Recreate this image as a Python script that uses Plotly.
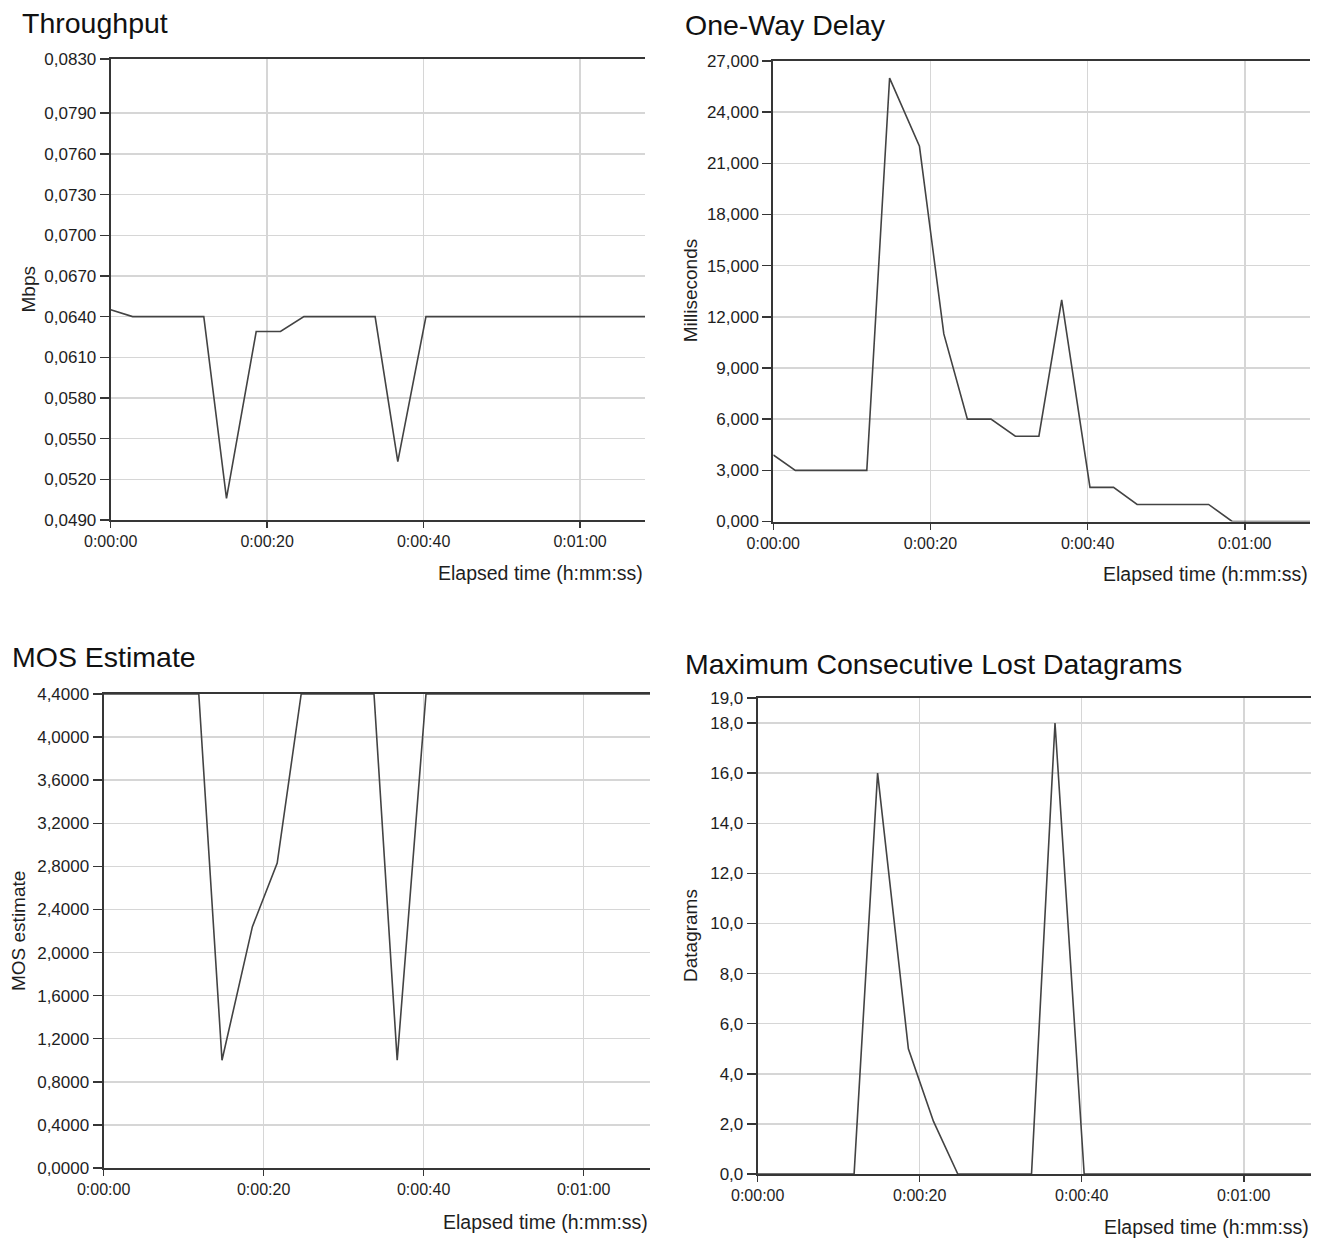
import plotly.graph_objects as go

# ---------------- data ----------------
# elapsed time of each sample, seconds
time_s = [0, 2.8, 5.8, 8.9, 11.9, 14.8, 18.6, 21.7, 24.7, 27.7, 30.8, 33.8,
          36.7, 40.3, 43.3, 46.3, 49.3, 52.4, 55.4, 58.4, 61.4, 64.4, 67.5, 70.5]

throughput_mbps = [0.0645, 0.0640, 0.0640, 0.0640, 0.0640, 0.0506, 0.0629, 0.0629,
                   0.0640, 0.0640, 0.0640, 0.0640, 0.0533, 0.0640, 0.0640, 0.0640,
                   0.0640, 0.0640, 0.0640, 0.0640, 0.0640, 0.0640, 0.0640, 0.0640]

delay_ms = [3.9, 3.0, 3.0, 3.0, 3.0, 26.0, 22.0, 11.0, 6.0, 6.0, 5.0, 5.0,
            13.0, 2.0, 2.0, 1.0, 1.0, 1.0, 1.0, 0.0, 0.0, 0.0, 0.0, 0.0]

mos_estimate = [4.4, 4.4, 4.4, 4.4, 4.4, 1.0, 2.24, 2.83, 4.4, 4.4, 4.4, 4.4,
                1.0, 4.4, 4.4, 4.4, 4.4, 4.4, 4.4, 4.4, 4.4, 4.4, 4.4, 4.4]

lost_datagrams = [0, 0, 0, 0, 0, 16, 5, 2.1, 0, 0, 0, 0,
                  18, 0, 0, 0, 0, 0, 0, 0, 0, 0, 0, 0]

x_tickvals = [0, 20, 40, 60]
x_ticktext = ["0:00:00", "0:00:20", "0:00:40", "0:01:00"]

thr_tickvals = [0.049, 0.052, 0.055, 0.058, 0.061, 0.064, 0.067, 0.070, 0.073, 0.076, 0.079, 0.083]
thr_ticktext = ["0,0490", "0,0520", "0,0550", "0,0580", "0,0610", "0,0640", "0,0670",
                "0,0700", "0,0730", "0,0760", "0,0790", "0,0830"]

delay_tickvals = [0, 3, 6, 9, 12, 15, 18, 21, 24, 27]
delay_ticktext = ["0,000", "3,000", "6,000", "9,000", "12,000", "15,000", "18,000",
                  "21,000", "24,000", "27,000"]

mos_tickvals = [0, 0.4, 0.8, 1.2, 1.6, 2.0, 2.4, 2.8, 3.2, 3.6, 4.0, 4.4]
mos_ticktext = ["0,0000", "0,4000", "0,8000", "1,2000", "1,6000", "2,0000", "2,4000",
                "2,8000", "3,2000", "3,6000", "4,0000", "4,4000"]

lost_tickvals = [0, 2, 4, 6, 8, 10, 12, 14, 16, 18, 19]
lost_ticktext = ["0,0", "2,0", "4,0", "6,0", "8,0", "10,0", "12,0", "14,0", "16,0",
                 "18,0", "19,0"]

# ---------------- layout ----------------
W, H = 1317, 1238
FONT = "Arial, Liberation Sans, sans-serif"
LINE_C = "#434343"
AXIS_C = "#363636"
GRID_C = "#d6d6d6"
TXT_C = "#1e1e1e"


def px(x):
    return x / W


def py(y):
    return 1 - y / H


panels = [
    dict(title="Throughput", ytitle="Mbps", y=throughput_mbps,
         tv=thr_tickvals, tt=thr_ticktext, yr=[0.049, 0.083],
         box=(110.7, 645, 59, 520), title_xy=(20, 22.5), ytitle_x=28,
         xlab_y=573),
    dict(title="One-Way Delay", ytitle="Milliseconds", y=delay_ms,
         tv=delay_tickvals, tt=delay_ticktext, yr=[0, 27],
         box=(773.3, 1310, 61, 521.5), title_xy=(683, 25), ytitle_x=690,
         xlab_y=574),
    dict(title="MOS Estimate", ytitle="MOS estimate", y=mos_estimate,
         tv=mos_tickvals, tt=mos_ticktext, yr=[0, 4.4],
         box=(103.6, 650, 694, 1168), title_xy=(10, 657), ytitle_x=18,
         xlab_y=1222),
    dict(title="Maximum Consecutive Lost Datagrams", ytitle="Datagrams", y=lost_datagrams,
         tv=lost_tickvals, tt=lost_ticktext, yr=[0, 19],
         box=(757.7, 1311, 698, 1174), title_xy=(683, 664), ytitle_x=690,
         xlab_y=1227),
]

fig = go.Figure()
annotations = []
layout = dict(
    width=W, height=H,
    margin=dict(l=0, r=0, t=0, b=0, pad=0, autoexpand=False),
    paper_bgcolor="white", plot_bgcolor="white",
    showlegend=False,
    font=dict(family=FONT, color=TXT_C),
)

for i, p in enumerate(panels):
    n = "" if i == 0 else str(i + 1)
    l, r, t, b = p["box"]
    fig.add_trace(go.Scatter(
        x=time_s, y=p["y"], mode="lines",
        line=dict(color=LINE_C, width=1.6),
        xaxis="x" + n, yaxis="y" + n, cliponaxis=True,
    ))
    layout["xaxis" + n] = dict(
        domain=[px(l), px(r)], anchor="y" + n, range=[0, 68.3],
        tickmode="array", tickvals=x_tickvals, ticktext=x_ticktext,
        showgrid=True, gridcolor=GRID_C, gridwidth=1.5, zeroline=False,
        showline=True, linecolor=AXIS_C, linewidth=2, mirror=True,
        ticks="outside", ticklen=6, tickwidth=1.5, tickcolor=AXIS_C,
        tickfont=dict(size=16, family=FONT, color=TXT_C),
        automargin=False, fixedrange=True,
    )
    layout["yaxis" + n] = dict(
        domain=[py(b), py(t)], anchor="x" + n, range=p["yr"],
        tickmode="array", tickvals=p["tv"], ticktext=p["tt"],
        showgrid=True, gridcolor=GRID_C, gridwidth=1.5, zeroline=False,
        showline=True, linecolor=AXIS_C, linewidth=2,
        ticks="outside", ticklen=9, tickwidth=1.5, tickcolor=AXIS_C,
        tickfont=dict(size=17, family=FONT, color=TXT_C),
        automargin=False, fixedrange=True,
    )
    tx, ty = p["title_xy"]
    annotations.append(dict(
        text=p["title"], xref="paper", yref="paper", x=px(tx), y=py(ty),
        xanchor="left", yanchor="middle", showarrow=False,
        font=dict(size=28.5, family=FONT, color="#111111"),
    ))
    annotations.append(dict(
        text=p["ytitle"], xref="paper", yref="paper", x=px(p["ytitle_x"]),
        y=py((t + b) / 2), xanchor="center", yanchor="middle", textangle=-90,
        showarrow=False, font=dict(size=19, family=FONT, color=TXT_C),
    ))
    annotations.append(dict(
        text="Elapsed time (h:mm:ss)", xref="paper", yref="paper", x=px(r),
        y=py(p["xlab_y"]), xanchor="right", yanchor="middle", showarrow=False,
        font=dict(size=19.5, family=FONT, color=TXT_C),
    ))

layout["annotations"] = annotations
fig.update_layout(**layout)
fig.write_html(
    "out.html",
    config={"displayModeBar": False, "staticPlot": True},
    post_script="document.body.style.margin='0';document.body.style.overflow='hidden';",
)
